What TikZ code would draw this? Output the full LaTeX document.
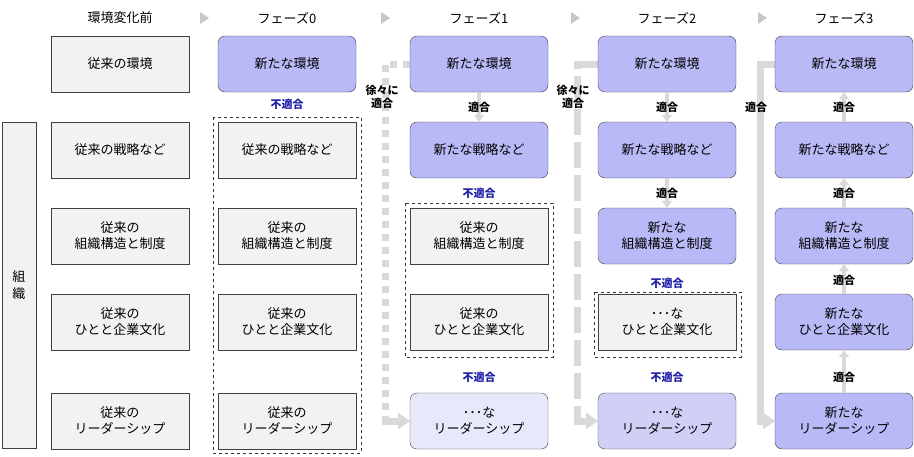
\documentclass[tikz,border=0pt]{standalone}
\usepackage{fontspec}
\setmainfont{Noto Sans CJK JP}
\usetikzlibrary{arrows.meta}
\definecolor{oldf}{HTML}{F2F2F2}
\definecolor{newf}{HTML}{B9B9F7}
\definecolor{lt1}{HTML}{E8E8FB}
\definecolor{lt2}{HTML}{D0D0F6}
\definecolor{gl}{HTML}{D9D9D9}
\definecolor{bl}{HTML}{1F1FA8}
\begin{document}
\begin{tikzpicture}[x=1pt,y=-1pt,
 box/.style={draw=black!75,minimum width=138pt,minimum height=56pt,align=center,font=\fontsize{13}{16}\selectfont,inner sep=0pt},
 old/.style={box,fill=oldf},
 nw/.style={box,fill=newf,rounded corners=7pt},
 hd/.style={font=\fontsize{13}{15}\selectfont},
 fit/.style={font=\bfseries\fontsize{11}{13}\selectfont},
 nfit/.style={fit,text=bl},
 gl/.style={draw=gl,line width=7pt},
 tri/.style={fill=gl!80!gray,draw=none}]
\useasboundingbox (0,0) rectangle (914,456);
% headers
\node[hd] (h0) at (120,18) {環境変化前};
\node[hd] (h1) at (287,18) {フェーズ0};
\node[hd] (h2) at (479,18) {フェーズ1};
\node[hd] (h3) at (667,18) {フェーズ2};
\node[hd] (h4) at (844,18) {フェーズ3};
\foreach \x in {204,385,575,762}{\fill[tri] (\x-4,12)--(\x+5,18)--(\x-4,24)--cycle;}
% left org
\node[draw=black!75,fill=oldf,minimum width=34pt,minimum height=326pt,inner sep=0pt,align=center,font=\fontsize{13}{17}\selectfont] (org) at (19,285) {組\\織};
% gray path lines (behind)
\draw[gl,dash pattern=on 7pt off 6pt] (410,64) -| (385,421);
\draw[gl,dash pattern=on 26pt off 7pt] (598,64) -| (577,421);
\draw[gl] (775,64) -| (760,421);
\draw[gl,line width=7pt,-{Triangle[length=12pt,width=16pt]}] (381.5,421) -- (410,421);
\draw[gl,line width=7pt,-{Triangle[length=12pt,width=16pt]}] (573.5,421) -- (598,421);
\draw[gl,line width=7pt,-{Triangle[length=12pt,width=16pt]}] (756.5,421) -- (775,421);
% column 0
\node[old] (a0) at (120,64) {従来の環境};
\node[old] (a1) at (120,150) {従来の戦略など};
\node[old] (a2) at (120,236) {従来の\\組織構造と制度};
\node[old] (a3) at (120,322) {従来の\\ひとと企業文化};
\node[old] (a4) at (120,421) {従来の\\リーダーシップ};
% column 1
\node[nw] (b0) at (287,64) {新たな環境};
\node[old] (b1) at (287,150) {従来の戦略など};
\node[old] (b2) at (287,236) {従来の\\組織構造と制度};
\node[old] (b3) at (287,322) {従来の\\ひとと企業文化};
\node[old] (b4) at (287,421) {従来の\\リーダーシップ};
\draw[dashed,black!80] (213,117) rectangle (361,453);
% column 2
\node[nw] (c0) at (479,64) {新たな環境};
\node[nw] (c1) at (479,150) {新たな戦略など};
\node[old] (c2) at (479,236) {従来の\\組織構造と制度};
\node[old] (c3) at (479,322) {従来の\\ひとと企業文化};
\node[nw,fill=lt1] (c4) at (479,421) {･･･な\\リーダーシップ};
\draw[dashed,black!80] (405,203) rectangle (553,357);
% column 3
\node[nw] (d0) at (667,64) {新たな環境};
\node[nw] (d1) at (667,150) {新たな戦略など};
\node[nw] (d2) at (667,236) {新たな\\組織構造と制度};
\node[old] (d3) at (667,322) {･･･な\\ひとと企業文化};
\node[nw,fill=lt2] (d4) at (667,421) {･･･な\\リーダーシップ};
\draw[dashed,black!80] (594,292) rectangle (741,357);
% column 4
\node[nw] (e0) at (844,64) {新たな環境};
\node[nw] (e1) at (844,150) {新たな戦略など};
\node[nw] (e2) at (844,236) {新たな\\組織構造と制度};
\node[nw] (e3) at (844,322) {新たな\\ひとと企業文化};
\node[nw] (e4) at (844,421) {新たな\\リーダーシップ};
% small fit arrows
\draw[gl,line width=4pt,-{Triangle[length=7pt,width=10pt]}] (c0) -- (c1);
\draw[gl,line width=4pt,-{Triangle[length=7pt,width=10pt]}] (d0) -- (d1);
\draw[gl,line width=4pt,-{Triangle[length=7pt,width=10pt]}] (d1) -- (d2);
\draw[gl,line width=4pt,-{Triangle[length=7pt,width=10pt]}] (e4) -- (e3);
\draw[gl,line width=4pt,-{Triangle[length=7pt,width=10pt]}] (e3) -- (e2);
\draw[gl,line width=4pt,-{Triangle[length=7pt,width=10pt]}] (e2) -- (e1);
\draw[gl,line width=4pt,-{Triangle[length=7pt,width=10pt]}] (e1) -- (e0);
% labels
\node[nfit] (l1) at (287,104) {不適合};
\node[fit,align=center] (g1) at (382,97) {徐々に\\適合};
\node[fit] (l2) at (479,107) {適合};
\node[nfit] (l3) at (479,193) {不適合};
\node[nfit] (l4) at (479,377) {不適合};
\node[fit,align=center] (g2) at (573,97) {徐々に\\適合};
\node[fit] (l5) at (667,107) {適合};
\node[fit] (l6) at (667,193) {適合};
\node[nfit] (l7) at (667,283) {不適合};
\node[nfit] (l8) at (667,377) {不適合};
\node[fit] (g3) at (756,107) {適合};
\node[fit] (l9) at (844,107) {適合};
\node[fit] (l10) at (844,193) {適合};
\node[fit] (l11) at (844,280) {適合};
\node[fit] (l12) at (844,377) {適合};
\end{tikzpicture}
\end{document}
